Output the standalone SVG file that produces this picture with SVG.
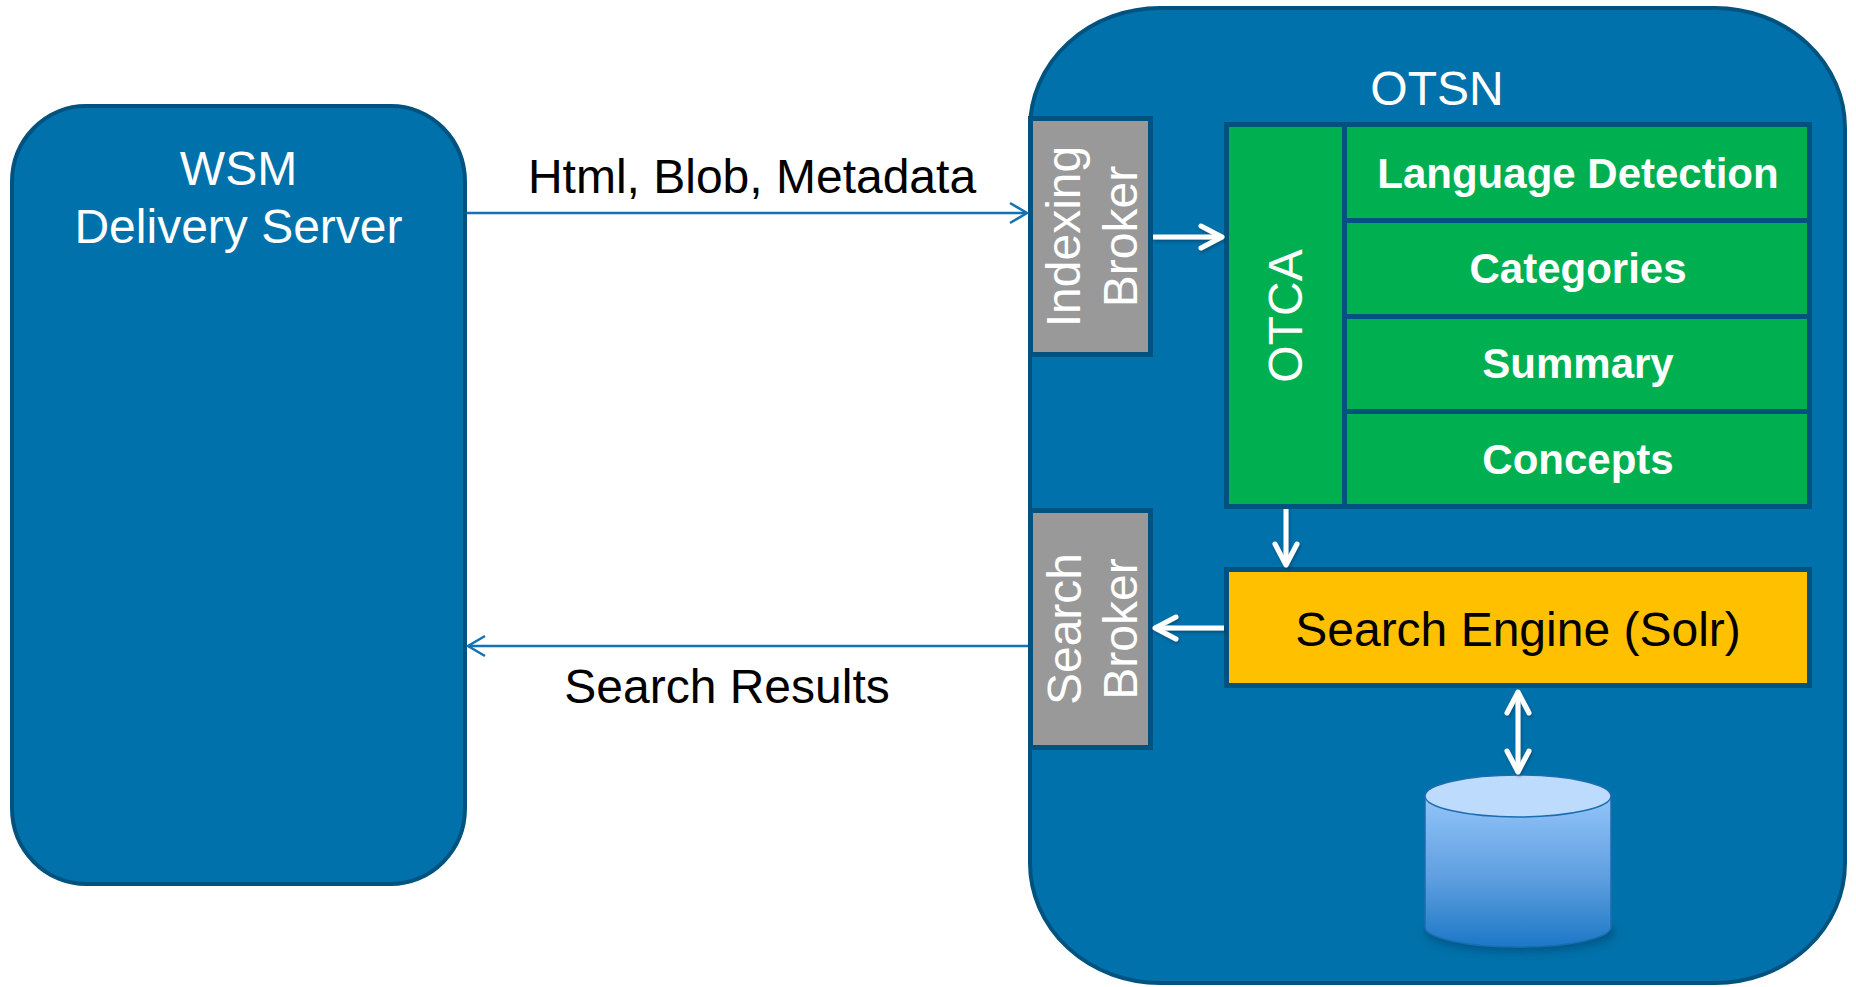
<svg xmlns="http://www.w3.org/2000/svg" width="1856" height="987" viewBox="0 0 1856 987">
<style>
.big{fill:#0071AA;stroke:#00527F;stroke-width:4}
.box{stroke:#00527F;stroke-width:5}
.t{font-family:"Liberation Sans",Arial,sans-serif;font-size:48px}
.w{fill:#ffffff}
.k{fill:#000000}
.b{font-weight:bold;font-size:42px}
.conn{fill:none;stroke:#1372B2;stroke-width:2.5}
.warr{fill:none;stroke:#ffffff;stroke-width:5}
</style>
<defs>
<marker id="openBlue" markerUnits="userSpaceOnUse" markerWidth="22" markerHeight="26" viewBox="0 0 22 26" refX="20" refY="13" orient="auto">
<path d="M3,3 L20,13 L3,23" fill="none" stroke="#1372B2" stroke-width="2.5"/>
</marker>
<marker id="openWhite" markerUnits="userSpaceOnUse" markerWidth="28" markerHeight="30" viewBox="0 0 28 30" refX="25" refY="15" orient="auto-start-reverse">
<path d="M4,4 L25,15 L4,26" fill="none" stroke="#ffffff" stroke-width="5" stroke-linecap="round" stroke-linejoin="round"/>
</marker>
<linearGradient id="cyl" x1="0" y1="0" x2="0" y2="1">
<stop offset="0" stop-color="#93C5F8"/>
<stop offset="0.55" stop-color="#5E9EE0"/>
<stop offset="1" stop-color="#1C78C6"/>
</linearGradient>
<filter id="soft" x="-20%" y="-20%" width="140%" height="140%">
<feGaussianBlur stdDeviation="4"/>
</filter>
<filter id="sh" x="-30%" y="-30%" width="160%" height="160%">
<feDropShadow dx="1" dy="2" stdDeviation="1.5" flood-color="#00304d" flood-opacity="0.5"/>
</filter>
</defs>

<g id="wsm">
<rect class="big" x="12" y="106" width="453" height="778" rx="74" ry="76"/>
<text class="t w" x="238.5" y="185" text-anchor="middle">WSM</text>
<text class="t w" x="238.5" y="243" text-anchor="middle">Delivery Server</text>
</g>

<g id="otsn">
<rect class="big" x="1030" y="8" width="815" height="975" rx="130" ry="120"/>
<text class="t w" x="1437" y="105" text-anchor="middle">OTSN</text>
</g>

<g id="indexing-broker">
<rect class="box" x="1030.5" y="118.5" width="120" height="236" fill="#999999"/>
<text class="t w" font-size="47" transform="translate(1080,236.5) rotate(-90)" text-anchor="middle">Indexing</text>
<text class="t w" font-size="47" transform="translate(1137,236.5) rotate(-90)" text-anchor="middle">Broker</text>
</g>

<g id="search-broker">
<rect class="box" x="1030.5" y="510.5" width="120" height="237" fill="#999999"/>
<text class="t w" font-size="47" transform="translate(1081,629) rotate(-90)" text-anchor="middle">Search</text>
<text class="t w" font-size="47" transform="translate(1137,629) rotate(-90)" text-anchor="middle">Broker</text>
</g>

<g id="otca">
<rect class="box" x="1226.5" y="124.5" width="118" height="382" fill="#00B050"/>
<text class="t w" transform="translate(1302,316) rotate(-90)" text-anchor="middle">OTCA</text>
</g>

<g id="language-detection">
<rect class="box" x="1344.5" y="124.5" width="465" height="96" fill="#00B050"/>
<text class="t w b" x="1578" y="188" text-anchor="middle">Language Detection</text>
</g>
<g id="categories">
<rect class="box" x="1344.5" y="220.5" width="465" height="96" fill="#00B050"/>
<text class="t w b" x="1578" y="283" text-anchor="middle">Categories</text>
</g>
<g id="summary">
<rect class="box" x="1344.5" y="316.5" width="465" height="95" fill="#00B050"/>
<text class="t w b" x="1578" y="378" text-anchor="middle">Summary</text>
</g>
<g id="concepts">
<rect class="box" x="1344.5" y="411.5" width="465" height="95" fill="#00B050"/>
<text class="t w b" x="1578" y="474" text-anchor="middle">Concepts</text>
</g>

<g id="search-engine">
<rect class="box" x="1226.5" y="569.5" width="583" height="116" fill="#FFC000"/>
<text class="t k" x="1518" y="646" text-anchor="middle">Search Engine (Solr)</text>
</g>

<g id="database">
<ellipse cx="1520" cy="932" rx="95" ry="20" fill="#003a5e" opacity="0.45" filter="url(#soft)"/>
<path d="M1425,796 L1425,927 A93,20 0 0 0 1611,927 L1611,796 Z" fill="url(#cyl)" stroke="#1A6DB0" stroke-width="1.5"/>
<ellipse cx="1518" cy="796" rx="93" ry="21" fill="#BDDBFD" stroke="#1A6DB0" stroke-width="1.5"/>
</g>

<g id="connectors">
<line class="conn" x1="467" y1="213" x2="1027" y2="213" marker-end="url(#openBlue)"/>
<line class="conn" x1="1028" y1="646" x2="468" y2="646" marker-end="url(#openBlue)"/>
<g filter="url(#sh)">
<line class="warr" x1="1153" y1="237" x2="1222" y2="237" marker-end="url(#openWhite)"/>
<line class="warr" x1="1286" y1="509" x2="1286" y2="565" marker-end="url(#openWhite)"/>
<line class="warr" x1="1224" y1="628" x2="1155" y2="628" marker-end="url(#openWhite)"/>
<line class="warr" x1="1518" y1="692" x2="1518" y2="772" marker-start="url(#openWhite)" marker-end="url(#openWhite)"/>
</g>
<text class="t k" x="752" y="193" text-anchor="middle">Html, Blob, Metadata</text>
<text class="t k" x="727" y="703" text-anchor="middle">Search Results</text>
</g>
</svg>
